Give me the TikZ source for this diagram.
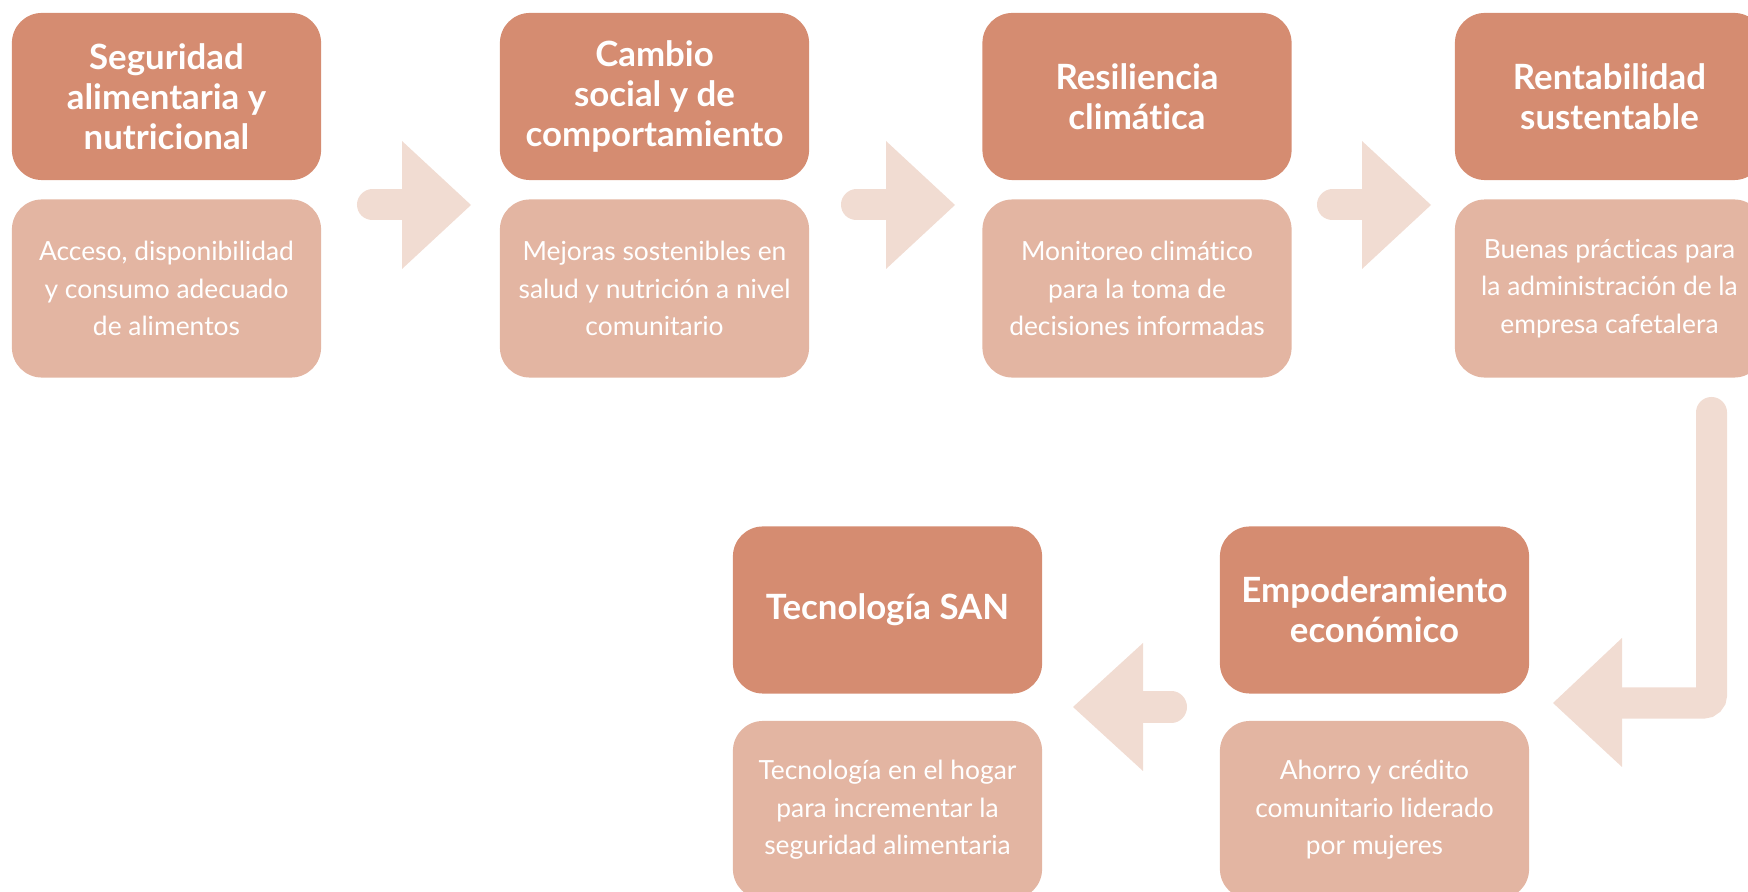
\documentclass[tikz,border=0pt]{standalone}
\usepackage{fontspec}
\setmainfont{Lato}[Ligatures=NoCommon]
\usetikzlibrary{positioning,calc}
\definecolor{headfill}{HTML}{D58C71}
\definecolor{bodyfill}{HTML}{E3B5A2}
\definecolor{flowfill}{HTML}{F1DCD2}
\tikzset{
  head/.style={fill=headfill,rounded corners=0.3cm,minimum width=3.09cm,minimum height=1.67cm,
    text width=2.95cm,align=flush center,inner sep=0pt,text=white,
    font=\bfseries\fontsize{9.9}{11.4}\selectfont},
  body/.style={fill=bodyfill,rounded corners=0.3cm,minimum width=3.09cm,minimum height=1.78cm,
    text width=2.95cm,align=flush center,inner sep=0pt,text=white,
    font=\fontsize{7.5}{10.66}\selectfont},
  shaft/.style={draw=flowfill,line width=0.31cm,line cap=round},
  tip/.style={fill=flowfill}
}
\begin{document}
\begin{tikzpicture}[x=0.01cm,y=-0.01cm]
                \useasboundingbox (0,0) rectangle (1748,892);
                \clip (0,0) rectangle (1748,892);
                % top row
                \node[head] (h1) at (166.5,96.5) {Seguridad\\alimentaria y\\nutricional};
                \node[head] (h2) at (654.5,96.5) {Cambio\\social y de\\comportamiento};
                \node[head] (h3) at (1137,96.5) {Resiliencia\\climática};
                \node[head] (h4) at (1609.5,96.5) {Rentabilidad\\sustentable};
                \node[body,below=0.18cm of h1] (b1) {Acceso, disponibilidad\\y consumo adecuado\\de alimentos};
                \node[body,below=0.18cm of h2] (b2) {Mejoras sostenibles en\\salud y nutrición a nivel\\comunitario};
                \node[body,below=0.18cm of h3] (b3) {Monitoreo climático\\para la toma de\\decisiones informadas};
                \node[body,below=0.18cm of h4] (b4) {Buenas prácticas para\\la administración de la\\empresa cafetalera};
                % bottom row
                \node[head] (h5) at (1374.5,610) {Empoderamiento\\económico};
                \node[head] (h6) at (887.5,610) {Tecnología SAN};
                \node[body,below=0.26cm of h5] (b5) {Ahorro y crédito\\comunitario liderado\\por mujeres};
                \node[body,below=0.26cm of h6] (b6) {Tecnología en el hogar\\para incrementar la\\seguridad alimentaria};
                % arrows
                \foreach \i/\x in {1/471,2/955,3/1431} {
                  \coordinate (tip\i) at (\x,205);
                  \draw[shaft] ($(tip\i)+(-98.5,0)$) -- ($(tip\i)+(-69,0)$);
                  \fill[tip] (tip\i) -- ++(-69,-64) -- ++(0,128) -- cycle;
                }
                \coordinate (bend) at (1711.5,412.5);
                \coordinate (tip4) at (1553,703);
                \draw[shaft,rounded corners=0.08cm] (bend) |- ($(tip4)+(69,0)$);
                \fill[tip] (tip4) -- ++(69,-65) -- ++(0,129) -- cycle;
                \coordinate (tip5) at (1073,707);
                \draw[shaft] ($(tip5)+(98.5,0)$) -- ($(tip5)+(70,0)$);
                \fill[tip] (tip5) -- ++(70,-64) -- ++(0,128) -- cycle;
            \end{tikzpicture}
\end{document}
